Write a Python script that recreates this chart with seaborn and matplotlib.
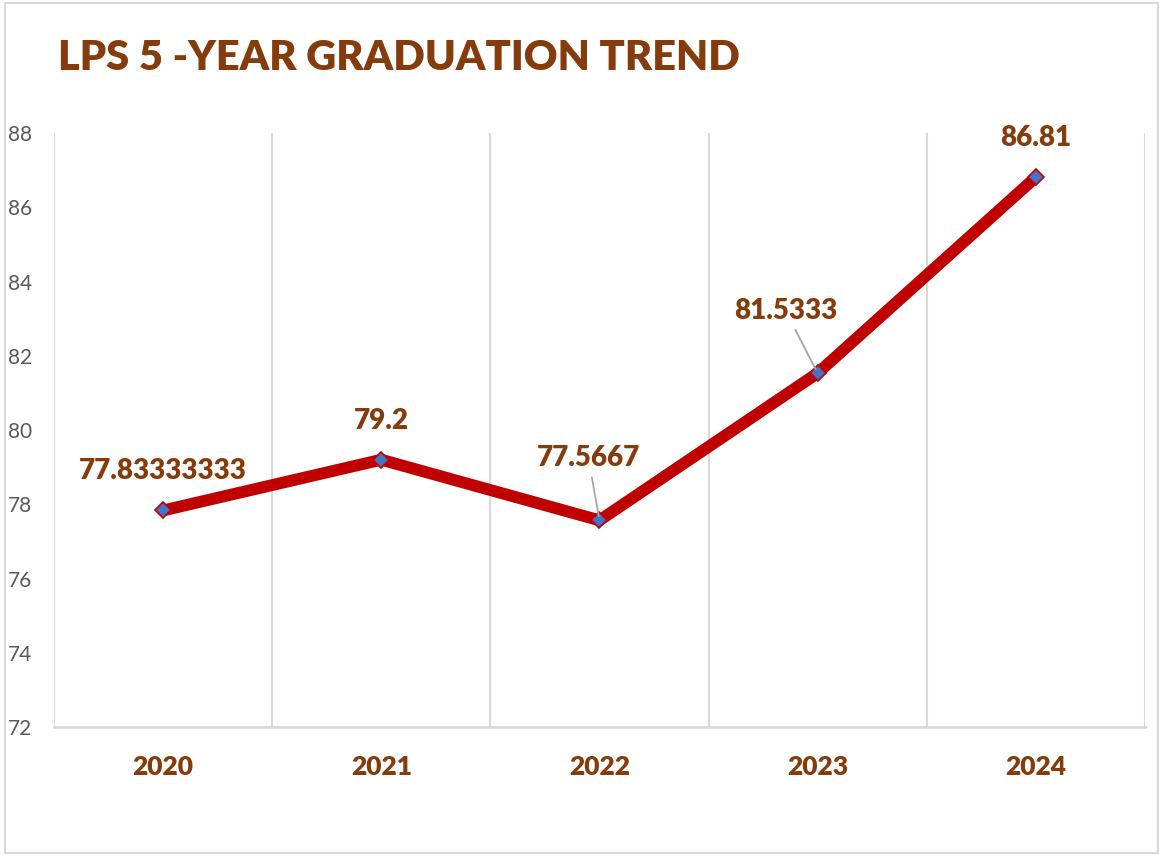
import matplotlib
matplotlib.use("Agg")
import matplotlib.pyplot as plt
import seaborn as sns
from matplotlib.patches import Rectangle

years = ["2020", "2021", "2022", "2023", "2024"]
rates = [77.83333333, 79.2, 77.5667, 81.5333, 86.81]
labels = ["77.83333333", "79.2", "77.5667", "81.5333", "86.81"]
y_ticks = [72, 74, 76, 78, 80, 82, 84, 86, 88]

brown = "#843C0C"
red = "#C00000"
blue = "#4472C4"
grid = "#D9D9D9"

sns.set_theme(style="white")
plt.rcParams["font.family"] = ["Lato", "DejaVu Sans"]

fig = plt.figure(figsize=(11.6, 8.55), dpi=100)
ax = fig.add_axes([0.0466, 0.1497, 0.9404, 0.6947])

sns.lineplot(x=years, y=rates, ax=ax, color=red, linewidth=8.5,
             marker="D", markersize=8, markerfacecolor=blue,
             markeredgecolor=red, markeredgewidth=1.2)

ax.set_xlim(-0.5, 4.5)
ax.set_ylim(72, 88)
ax.set_yticks(y_ticks)
ax.set_yticklabels([str(t) for t in y_ticks], color="#595959", fontsize=15)
ax.set_xticks(range(len(years)))
ax.set_xticklabels(years, color=brown, fontsize=19, fontweight="heavy")
ax.tick_params(axis="y", length=0, pad=16)
ax.tick_params(axis="x", length=0, pad=20)
ax.set_xticks([i - 0.5 for i in range(len(years) + 1)], minor=True)
ax.grid(False)
ax.grid(True, which="minor", axis="x", color=grid, linewidth=1.5)
ax.set_xlabel("")
ax.set_ylabel("")
for s in ["top", "right", "left"]:
    ax.spines[s].set_visible(False)
ax.spines["bottom"].set_color(grid)
ax.spines["bottom"].set_linewidth(2)

offsets = [(0, 39), (0, 39), (-11, 62), (-32, 62), (0, 39)]
leaders = [False, False, True, True, False]
for i, (lab, v) in enumerate(zip(labels, rates)):
    dx, dy = offsets[i]
    props = dict(arrowstyle="-", color="#A6A6A6", lw=1.3, shrinkA=2, shrinkB=3) if leaders[i] else None
    ax.annotate(lab, (i, v), xytext=(dx, dy), textcoords="offset pixels",
                ha="center", va="center", color=brown, fontsize=20,
                fontweight="heavy", arrowprops=props)

fig.text(0.05, 0.932, "LPS 5 -YEAR GRADUATION TREND", color=brown,
         fontsize=30, fontweight="heavy", ha="left", va="center")

fig.patches.append(Rectangle((0.004, 0.002), 0.994, 0.994, transform=fig.transFigure,
                             fill=False, edgecolor=grid, linewidth=1.5))

fig.savefig("out.png", dpi=100)
